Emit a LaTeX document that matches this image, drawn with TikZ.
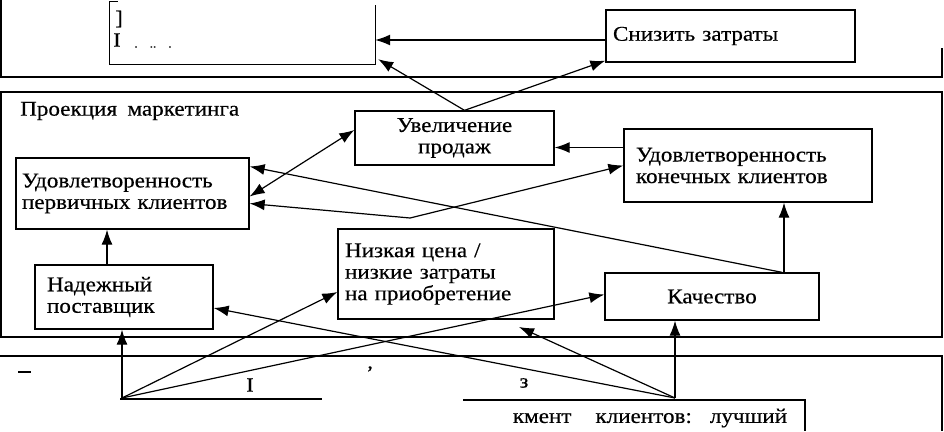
\documentclass[tikz,border=0pt]{standalone}
\usepackage{fontspec}
\setmainfont{Liberation Serif}[WordSpace=1.8, FakeStretch=1.1, FakeBold=0.4]
\usetikzlibrary{arrows.meta}
\begin{document}
\begin{tikzpicture}[x=1pt,y=-1pt,
  txt/.style={font=\fontsize{21}{21.5}\selectfont},
  box/.style={txt, draw, line width=1.3pt, inner sep=0pt},
  arr/.style={line width=1.2pt, -{Latex[length=15pt,width=11pt]}},
  darr/.style={line width=1.2pt, {Latex[length=15pt,width=11pt]}-{Latex[length=15pt,width=11pt]}},
  frame/.style={line width=1.2pt},
  frag/.style={font=\fontsize{20}{20}\selectfont, inner sep=0pt},
]
\useasboundingbox (0,0) rectangle (944,431);

% section frames
\draw[frame] (1,0) -- (1,77) -- (942,77) -- (942,48);
\draw[frame] (1,92) rectangle (942,337);
\draw[frame] (0,356) -- (942,356) -- (942,431);
\draw[frame] (120,399) -- (322,399);
\draw[frame] (463,400) -- (805,400) -- (805,431);
\draw[line width=2.5pt] (18,372) -- (31,372);

% top-left partly erased box
\node[inner sep=0pt, minimum width=265pt, minimum height=62pt] (topbox) at (242.5,33) {};
\draw[line width=1.3pt] ([xshift=8pt]topbox.north west) -- (topbox.north west) -- (topbox.south west) -- (topbox.south east) -- ([yshift=-3pt]topbox.north east);
\node[frag] (f1) at (119,19) {]};
\node[frag] (f2) at (117,40) {I};
\node[frag, font=\fontsize{12}{12}\selectfont] (f3) at (153,47) {.\hspace{12pt}..\hspace{12pt}.};

\node[box, minimum width=249pt, minimum height=52pt, text width=235pt, align=left] (snizit) at (730.5,36) {Снизить затраты};

\node[txt, anchor=west, inner sep=0pt] (proj) at (20,111) {Проекция маркетинга};

\node[box, minimum width=199pt, minimum height=54pt, align=center] (uvel) at (454.5,138) {Увеличение\\продаж};
\node[box, minimum width=233pt, minimum height=71pt, text width=221pt, align=left] (perv) at (132.5,193.5) {Удовлетворенность\\первичных клиентов};
\node[box, minimum width=248pt, minimum height=73pt, text width=224pt, align=left] (konech) at (748,165.5) {Удовлетворенность\\конечных клиентов};
\node[box, minimum width=216pt, minimum height=90pt, text width=202pt, align=left] (nizk) at (446,274) {Низкая цена /\\низкие затраты\\на приобретение};
\node[box, minimum width=178pt, minimum height=64pt, text width=154pt, align=left] (nadezh) at (124,297) {Надежный\\поставщик};
\node[box, minimum width=214pt, minimum height=47pt, align=center] (kach) at (712,296.5) {Качество};

% bottom fragments
\node[frag] (f4) at (250,385) {I};
\node[frag] (f5) at (370,373) {ʼ};
\node[frag] (f6) at (524,383) {з};
\node[txt, inner sep=0pt] (segm) at (650,418) {кмент\hspace{24pt}клиентов:\hspace{18pt}лучший};

% coordinates
\coordinate (uvtop) at ([xshift=10pt]uvel.north);
\coordinate (kq) at ([xshift=70pt]kach.north);
\coordinate (v) at (410,218);
\coordinate (s1) at (122,398);
\coordinate (s2) at (675,398);
\coordinate (tipN) at (519,327);

% connectors
\draw[arr] ([yshift=-4pt]snizit.west) -- ([yshift=-4pt]snizit.west -| topbox.east);
\draw[arr] (uvtop) -- ([xshift=3pt,yshift=5pt]topbox.south east);
\draw[arr] (uvtop) -- ([yshift=2pt]snizit.south west);
\draw[arr] ([yshift=18pt]konech.west) -- ([yshift=18pt]konech.west -| uvel.east);
\draw[darr] ([yshift=-3pt]perv.east) -- ([yshift=8pt]uvel.west);
\draw[arr] (v) -- ([yshift=-10pt]perv.east);
\draw[arr] (v) -- (konech.west);
\draw[arr] (kq) -- ([yshift=27pt]perv.east);
\draw[arr] ([xshift=2pt]kq) -- ([xshift=2pt]kq |- konech.south);
\draw[arr] ([xshift=-17pt]nadezh.north) -- ([xshift=-17pt]nadezh.north |- perv.south);

\draw[arr] (s1) -- (s1 |- nadezh.south);
\draw[arr] (s1) -- ([yshift=-18pt]nizk.west);
\draw[arr] (s1) -- ([yshift=2pt]kach.west);
\draw[arr] (s2) -- (s2 |- kach.south);
\draw[arr] (s2) -- (tipN);
\draw[arr] (s2) -- ([yshift=-11pt]nadezh.east);
\end{tikzpicture}
\end{document}
